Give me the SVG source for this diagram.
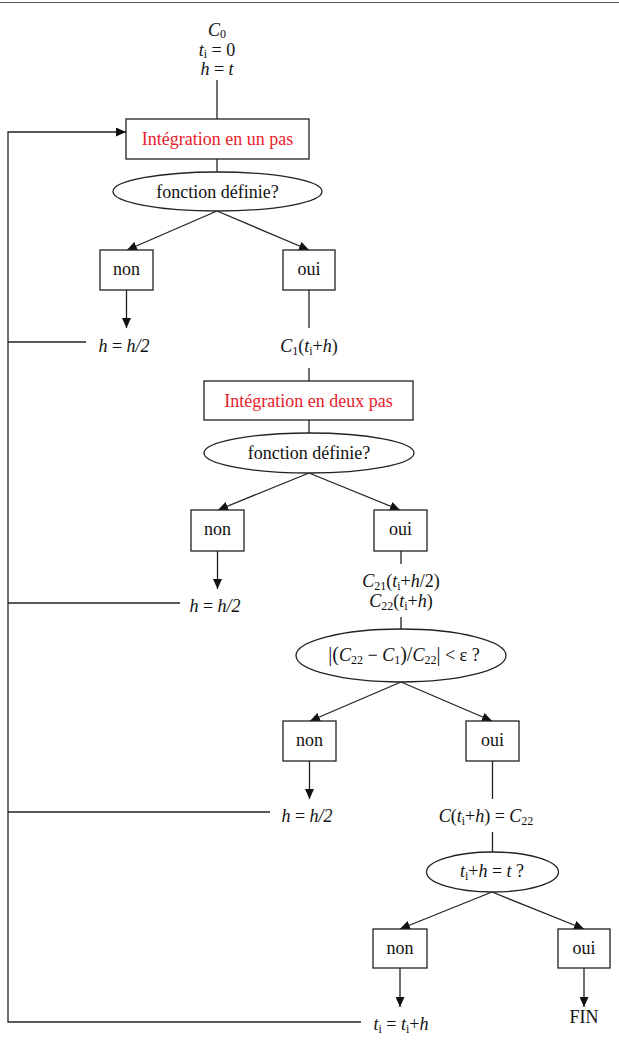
<svg xmlns="http://www.w3.org/2000/svg" width="619" height="1045" viewBox="0 0 619 1045">
<style>
.ln{stroke:#222;stroke-width:1.3;fill:none}
.bx{fill:#fff;stroke:#222;stroke-width:1.3}
text{font-family:"Liberation Serif","DejaVu Serif","Times New Roman",serif}
.t{font-size:18px;fill:#111;text-anchor:middle}
.red{fill:#e8202a}
.m{font-size:18px;fill:#111;text-anchor:middle;font-style:italic}
.u{font-style:normal}
.s{font-size:12px;font-style:normal}
</style>
<defs>
<marker id="ah" markerUnits="userSpaceOnUse" markerWidth="10" markerHeight="9" refX="10" refY="4.5" orient="auto">
<path d="M0,0 L10,4.5 L0,9 z" fill="#111"/>
</marker>
</defs>
<rect width="619" height="1045" fill="#fff"/>
<line x1="0" y1="2.5" x2="619" y2="2.5" stroke="#555" stroke-width="1.2"/>

<g id="connectors">
<line class="ln" x1="217" y1="80" x2="217" y2="119"/>
<line class="ln" x1="217" y1="159" x2="217" y2="172"/>
<line class="ln" x1="217" y1="211" x2="127" y2="250" marker-end="url(#ah)"/>
<line class="ln" x1="217" y1="211" x2="309" y2="250" marker-end="url(#ah)"/>
<line class="ln" x1="126.5" y1="290" x2="126.5" y2="328" marker-end="url(#ah)"/>
<line class="ln" x1="309" y1="290" x2="309" y2="328"/>
<line class="ln" x1="309" y1="368" x2="309" y2="381"/>
<line class="ln" x1="309" y1="420" x2="309" y2="433"/>
<line class="ln" x1="309" y1="473" x2="218" y2="510" marker-end="url(#ah)"/>
<line class="ln" x1="309" y1="473" x2="400" y2="510" marker-end="url(#ah)"/>
<line class="ln" x1="217.5" y1="551" x2="217.5" y2="589" marker-end="url(#ah)"/>
<line class="ln" x1="401" y1="551" x2="401" y2="564"/>
<line class="ln" x1="401" y1="617" x2="401" y2="629"/>
<line class="ln" x1="401" y1="682" x2="310" y2="721" marker-end="url(#ah)"/>
<line class="ln" x1="401" y1="682" x2="492" y2="721" marker-end="url(#ah)"/>
<line class="ln" x1="309.5" y1="761" x2="309.5" y2="799" marker-end="url(#ah)"/>
<line class="ln" x1="492.5" y1="761" x2="492.5" y2="799"/>
<line class="ln" x1="492.5" y1="832" x2="492.5" y2="852"/>
<line class="ln" x1="492" y1="892" x2="400" y2="929" marker-end="url(#ah)"/>
<line class="ln" x1="492" y1="892" x2="584" y2="929" marker-end="url(#ah)"/>
<line class="ln" x1="400" y1="968" x2="400" y2="1007" marker-end="url(#ah)"/>
<line class="ln" x1="584" y1="968" x2="584" y2="1007" marker-end="url(#ah)"/>
<polyline class="ln" points="361,1022 8,1022 8,132 126,132" marker-end="url(#ah)"/>
<line class="ln" x1="8" y1="342" x2="86" y2="342"/>
<line class="ln" x1="8" y1="603" x2="180" y2="603"/>
<line class="ln" x1="8" y1="812" x2="270" y2="812"/>
</g>

<g id="start">
<text class="m" x="217" y="36" font-size="17">C<tspan class="s" baseline-shift="-2" font-size="11">0</tspan></text>
<text class="m" x="217" y="56" font-size="17">t<tspan class="s" baseline-shift="-2" font-size="11">i</tspan><tspan class="u"> = 0</tspan></text>
<text class="m" x="217" y="75" font-size="17">h<tspan class="u"> = </tspan>t</text>
</g>

<g id="integ1">
<rect class="bx" x="126" y="119" width="183" height="40"/>
<text class="t red" x="217.5" y="145">Intégration en un pas</text>
</g>
<g id="test1">
<ellipse class="bx" cx="217.5" cy="191.5" rx="104.5" ry="19.5"/>
<text class="t" x="217.5" y="197.5">fonction définie?</text>
</g>
<g id="non1">
<rect class="bx" x="100" y="250" width="53" height="40"/>
<text class="t" x="126.5" y="275">non</text>
</g>
<g id="oui1">
<rect class="bx" x="283" y="250" width="52" height="40"/>
<text class="t" x="309" y="275">oui</text>
</g>
<g id="half1">
<text class="m" x="124" y="352">h<tspan class="u"> = </tspan>h/2</text>
</g>
<g id="c1">
<text class="m" x="309" y="352">C<tspan class="s" baseline-shift="-3">1</tspan><tspan class="u">(</tspan>t<tspan class="s" baseline-shift="-3" font-style="italic">i</tspan><tspan class="u">+</tspan>h<tspan class="u">)</tspan></text>
</g>

<g id="integ2">
<rect class="bx" x="204" y="381" width="209" height="39"/>
<text class="t red" x="308.5" y="407">Intégration en deux pas</text>
</g>
<g id="test2">
<ellipse class="bx" cx="309" cy="453" rx="105" ry="20"/>
<text class="t" x="309" y="459">fonction définie?</text>
</g>
<g id="non2">
<rect class="bx" x="191" y="510" width="53" height="41"/>
<text class="t" x="217.5" y="535">non</text>
</g>
<g id="oui2">
<rect class="bx" x="374" y="510" width="53" height="41"/>
<text class="t" x="400.5" y="535">oui</text>
</g>
<g id="half2">
<text class="m" x="215" y="612">h<tspan class="u"> = </tspan>h/2</text>
</g>
<g id="c2">
<text class="m" x="401" y="587">C<tspan class="s" baseline-shift="-3">21</tspan><tspan class="u">(</tspan>t<tspan class="s" baseline-shift="-3" font-style="italic">i</tspan><tspan class="u">+</tspan>h<tspan class="u">/2)</tspan></text>
<text class="m" x="401" y="607">C<tspan class="s" baseline-shift="-3">22</tspan><tspan class="u">(</tspan>t<tspan class="s" baseline-shift="-3" font-style="italic">i</tspan><tspan class="u">+</tspan>h<tspan class="u">)</tspan></text>
</g>

<g id="test3">
<ellipse class="bx" cx="401" cy="655.5" rx="105" ry="26.5"/>
<text class="m" x="404" y="661" font-size="16"><tspan class="u" font-size="20">|(</tspan>C<tspan class="s" baseline-shift="-3" font-size="11">22</tspan><tspan class="u"> − </tspan>C<tspan class="s" baseline-shift="-3" font-size="11">1</tspan><tspan class="u" font-size="20">)/</tspan>C<tspan class="s" baseline-shift="-3" font-size="11">22</tspan><tspan class="u" font-size="20">|</tspan><tspan class="u"> &lt; ε ?</tspan></text>
</g>
<g id="non3">
<rect class="bx" x="283" y="721" width="53" height="40"/>
<text class="t" x="309.5" y="746">non</text>
</g>
<g id="oui3">
<rect class="bx" x="466" y="721" width="53" height="40"/>
<text class="t" x="492.5" y="746">oui</text>
</g>
<g id="half3">
<text class="m" x="307" y="822">h<tspan class="u"> = </tspan>h/2</text>
</g>
<g id="c3">
<text class="m" x="486" y="822">C<tspan class="u">(</tspan>t<tspan class="s" baseline-shift="-3" font-style="italic">i</tspan><tspan class="u">+</tspan>h<tspan class="u">) = </tspan>C<tspan class="s" baseline-shift="-3">22</tspan></text>
</g>

<g id="test4">
<ellipse class="bx" cx="492.5" cy="872" rx="66" ry="20"/>
<text class="m" x="492" y="877" font-size="15">t<tspan class="s" baseline-shift="-3" font-style="italic" font-size="10">i</tspan><tspan class="u">+</tspan>h<tspan class="u"> = </tspan>t<tspan class="u"> ?</tspan></text>
</g>
<g id="non4">
<rect class="bx" x="373" y="929" width="54" height="39"/>
<text class="t" x="400" y="954">non</text>
</g>
<g id="oui4">
<rect class="bx" x="558" y="929" width="52" height="39"/>
<text class="t" x="584" y="954">oui</text>
</g>
<g id="step">
<text class="m" x="401" y="1030">t<tspan class="s" baseline-shift="-3" font-style="italic">i</tspan><tspan class="u"> = </tspan>t<tspan class="s" baseline-shift="-3" font-style="italic">i</tspan><tspan class="u">+</tspan>h</text>
</g>
<g id="fin">
<text class="t" x="584" y="1023">FIN</text>
</g>
</svg>
